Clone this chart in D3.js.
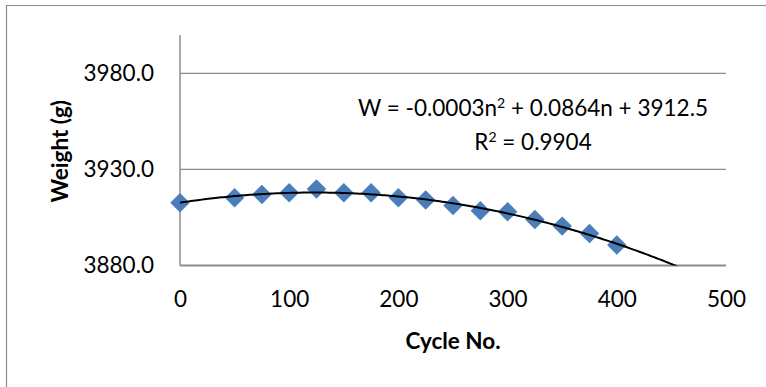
<!DOCTYPE html>
<html>
<head>
<meta charset="utf-8">
<script src="https://cdn.jsdelivr.net/npm/d3@7"></script>
<style>
  html, body { margin: 0; padding: 0; background: #fff; }
  svg { display: block; }
  text { font-family: Lato, "Open Sans", sans-serif; fill: #000; }
</style>
</head>
<body>
<svg id="chart" width="766" height="387"></svg>
<script>
// Weight measured at each cycle
const cycles  = [0, 50, 75, 100, 125, 150, 175, 200, 225, 250, 275, 300, 325, 350, 375, 400];
const weights = [3912.7, 3915.3, 3917.0, 3917.9, 3919.8, 3917.9, 3917.9, 3915.3,
                 3914.1, 3911.2, 3908.5, 3908.0, 3904.0, 3900.5, 3896.7, 3890.7];

const xTicks = [0, 100, 200, 300, 400, 500];
const yTicks = [3880, 3930, 3980];
const xDomain = [0, 500];
const yDomain = [3880, 4000];

const equationText = ["W = -0.0003n", "2", " + 0.0864n + 3912.5"];
const rSquaredText = ["R", "2", " = 0.9904"];

const svg = d3.select("#chart");
const W = 766, H = 387;
const plot = { left: 180, right: 726, top: 35, bottom: 265.5 };

// Chart frame
svg.append("path")
  .attr("d", `M6.5,${H} V5.5 H${W}`)
  .attr("fill", "none")
  .attr("stroke", "#8c8c8c")
  .attr("stroke-width", 1.2);

const x = d3.scaleLinear().domain(xDomain).range([plot.left, plot.right]);
const y = d3.scaleLinear().domain(yDomain).range([plot.bottom, plot.top]);

// Horizontal gridlines (above the baseline)
svg.append("g")
  .selectAll("line")
  .data(yTicks.filter(t => t > yDomain[0]))
  .join("line")
  .attr("x1", plot.left).attr("x2", plot.right)
  .attr("y1", d => y(d)).attr("y2", d => y(d))
  .attr("stroke", "#8c8c8c")
  .attr("stroke-width", 1.2);

// Y axis
const yAxis = svg.append("g")
  .attr("transform", `translate(${plot.left},0)`)
  .call(d3.axisLeft(y).tickValues(yTicks).tickFormat(d3.format(".1f")).tickSize(0).tickPadding(26));
yAxis.select(".domain").attr("stroke", "#8c8c8c").attr("stroke-width", 1.5)
  .attr("d", `M0,${plot.top}V${plot.bottom}`);
yAxis.selectAll("text").style("font-size", "22.5px").attr("fill", "#000")
  .style("font-family", "Lato, sans-serif");

// X axis
const xAxis = svg.append("g")
  .attr("transform", `translate(0,${plot.bottom})`)
  .call(d3.axisBottom(x).tickValues(xTicks).tickFormat(d3.format("d")).tickSize(0).tickPadding(26));
xAxis.select(".domain").attr("stroke", "#8c8c8c").attr("stroke-width", 2)
  .attr("d", `M${plot.left},0H${plot.right}`);
xAxis.selectAll("text").style("font-size", "22.5px").attr("fill", "#000")
  .style("font-family", "Lato, sans-serif");

// Axis titles
svg.append("text")
  .attr("x", (plot.left + plot.right) / 2)
  .attr("y", 348.5)
  .attr("text-anchor", "middle")
  .style("font-size", "22.5px")
  .style("font-weight", "bold")
  .text("Cycle No.");

svg.append("text")
  .attr("transform", `translate(68,${(plot.top + plot.bottom) / 2 + 1}) rotate(-90)`)
  .attr("text-anchor", "middle")
  .style("font-size", "22.5px")
  .style("font-weight", "bold")
  .text("Weight (g)");

// Quadratic least-squares trendline fitted to the measurements
function quadFit(xs, ys) {
  const S = k => d3.sum(xs, v => Math.pow(v, k));
  const T = k => d3.sum(xs, (v, i) => Math.pow(v, k) * ys[i]);
  const A = [[S(4), S(3), S(2)], [S(3), S(2), S(1)], [S(2), S(1), xs.length]];
  const b = [T(2), T(1), T(0)];
  const det = m => m[0][0]*(m[1][1]*m[2][2]-m[1][2]*m[2][1])
                 - m[0][1]*(m[1][0]*m[2][2]-m[1][2]*m[2][0])
                 + m[0][2]*(m[1][0]*m[2][1]-m[1][1]*m[2][0]);
  const D = det(A);
  const col = (j) => A.map((row, i) => row.map((v, k) => k === j ? b[i] : v));
  return [det(col(0)) / D, det(col(1)) / D, det(col(2)) / D];
}
const [qa, qb, qc] = quadFit(cycles, weights);
const fitN = d3.range(0, 500.5, 2);
const fitPts = fitN.map(n => [n, qa * n * n + qb * n + qc]);

svg.append("clipPath").attr("id", "plotClip")
  .append("rect")
  .attr("x", plot.left).attr("y", plot.top)
  .attr("width", plot.right - plot.left).attr("height", plot.bottom - plot.top);

// Markers
const diamond = d3.symbol().type(d3.symbolSquare).size(190);
svg.append("g")
  .selectAll("path")
  .data(cycles.map((c, i) => [c, weights[i]]))
  .join("path")
  .attr("d", diamond)
  .attr("transform", d => `translate(${x(d[0])},${y(d[1])}) rotate(45)`)
  .attr("fill", "#4a7ebb");

svg.append("path")
  .datum(fitPts)
  .attr("clip-path", "url(#plotClip)")
  .attr("fill", "none")
  .attr("stroke", "#000")
  .attr("stroke-width", 2)
  .attr("d", d3.line().x(d => x(d[0])).y(d => y(d[1])));

// Trendline equation and R²
function richLine(parts, cx, baseline) {
  const t = svg.append("text")
    .attr("x", cx).attr("y", baseline)
    .attr("text-anchor", "middle")
    .style("font-size", "22.5px");
  t.append("tspan").text(parts[0]);
  t.append("tspan").attr("dy", -8).style("font-size", "14px").text(parts[1]);
  t.append("tspan").attr("dy", 8).text(parts[2]);
}
richLine(equationText, 533, 116);
richLine(rSquaredText, 533, 150);
</script>
</body>
</html>
